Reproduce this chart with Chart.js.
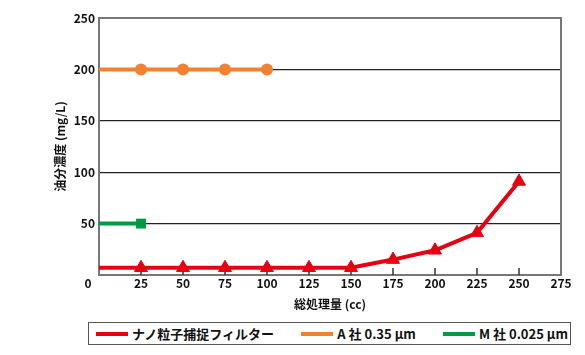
<!DOCTYPE html>
<html>
<head>
<meta charset="utf-8">
<script src="https://cdn.jsdelivr.net/npm/chart.js@4.4.1/dist/chart.umd.min.js"></script>
<style>
  body { margin: 0; background: #fff; }
  #wrap { position: relative; width: 585px; height: 355px; }
  #chart-box { position: absolute; left: 0; top: 0; width: 585px; height: 318px; }
  #legend {
    position: absolute; left: 88px; top: 322px; width: 479px; height: 21px;
    border: 1.5px solid #555; box-sizing: content-box;
    display: flex; align-items: center; justify-content: space-between;
    padding: 0 2px 0 0; font: bold 13px "Noto Sans CJK JP", sans-serif; color: #111;
  }
  #legend .item { display: flex; align-items: center; }
  #legend .item:first-child { margin-left: 7px; }
  #legend .swatch { width: 32px; height: 4px; margin-right: 4px; }
</style>
</head>
<body>
<div id="wrap">
  <div id="chart-box"><canvas id="oil-chart"></canvas></div>
  <div id="legend"></div>
</div>
<script>
const volumes = [0, 25, 50, 75, 100, 125, 150, 175, 200, 225, 250];
const nanoValues = [7, 7, 7, 7, 7, 7, 7, 15, 24, 41, 91];
const aValues = [200, 200, 200, 200, 200];
const mValues = [50, 50];
const seriesLabels = ['ナノ粒子捕捉フィルター', 'A 社 0.35 μm', 'M 社 0.025 μm'];
const seriesColors = ['#e60012', '#f08232', '#009a44'];

const toPoints = vals => vals.map((v, i) => ({ x: volumes[i], y: v }));
const hideFirst = r => ctx => (ctx.dataIndex === 0 ? 0 : r);
const FONT = '"Noto Sans CJK JP", sans-serif';

// 軸の内側の目盛りと原点の「0」
const extrasPlugin = {
    id: 'extras',
    beforeDatasetsDraw(chart) {
        const { ctx, chartArea, scales: { x } } = chart;
        ctx.save();
        ctx.strokeStyle = '#333';
        ctx.lineWidth = 1.5;
        x.ticks.forEach(t => {
            if (t.value === 0 || t.value === x.max) return;
            const px = Math.round(x.getPixelForValue(t.value));
            ctx.beginPath();
            ctx.moveTo(px, chartArea.bottom);
            ctx.lineTo(px, chartArea.bottom - 7);
            ctx.stroke();
        });
        ctx.restore();
    },
    afterDraw(chart) {
        const { ctx, chartArea, scales: { x } } = chart;
        ctx.save();
        ctx.font = `bold 12px ${FONT}`;
        ctx.fillStyle = '#111';
        ctx.textAlign = 'center';
        ctx.textBaseline = 'middle';
        ctx.fillText('0', x.getPixelForValue(0) - 11, chartArea.bottom + 8);
        ctx.restore();
    }
};

const datasets = [
    {
        label: seriesLabels[0], data: toPoints(nanoValues),
        borderColor: seriesColors[0], backgroundColor: seriesColors[0],
        borderWidth: 4, pointStyle: 'triangle', pointRadius: hideFirst(7.5), pointBorderWidth: 1
    },
    {
        label: seriesLabels[1], data: toPoints(aValues),
        borderColor: seriesColors[1], backgroundColor: seriesColors[1],
        borderWidth: 4, pointStyle: 'circle', pointRadius: hideFirst(6), pointBorderWidth: 0
    },
    {
        label: seriesLabels[2], data: toPoints(mValues),
        borderColor: seriesColors[2], backgroundColor: seriesColors[2],
        borderWidth: 4, pointStyle: 'rect', pointRadius: hideFirst(7), pointBorderWidth: 0
    }
];

new Chart(document.getElementById('oil-chart'), {
    type: 'line',
    data: { datasets },
    plugins: [extrasPlugin],
    options: {
        responsive: true,
        maintainAspectRatio: false,
        animation: false,
        layout: { padding: { left: 52, right: 24, top: 18, bottom: 3 } },
        plugins: { legend: { display: false }, tooltip: { enabled: false } },
        scales: {
            x: {
                type: 'linear', min: 0, max: 275,
                afterFit: s => { s.height = 40; },
                ticks: {
                    stepSize: 25, padding: 1, color: '#111',
                    font: { family: FONT, size: 12, weight: 'bold' },
                    callback: v => (v === 0 ? '' : v)
                },
                grid: { drawOnChartArea: false, drawTicks: false },
                border: { color: '#777', width: 2 },
                title: {
                    display: true, text: '総処理量 (cc)', color: '#111',
                    font: { family: FONT, size: 12, weight: 'bold' }, padding: { top: 0, bottom: 3 }
                }
            },
            y: {
                min: 0, max: 250,
                afterFit: s => { s.width = 47; },
                ticks: {
                    stepSize: 50, padding: 4, color: '#111',
                    font: { family: FONT, size: 12, weight: 'bold' },
                    callback: v => (v === 0 ? '' : v)
                },
                grid: {
                    drawTicks: false,
                    color: c => (c.tick.value === 250 ? '#777' : c.tick.value === 0 ? 'rgba(0,0,0,0)' : '#222'),
                    lineWidth: c => (c.tick.value === 250 ? 2 : 1.2)
                },
                border: { color: '#777', width: 2 },
                title: {
                    display: true, text: '油分濃度 (mg/L)', color: '#111',
                    font: { family: FONT, size: 12, weight: 'bold' }, padding: { top: 1, bottom: 0 }
                }
            },
            y2: {
                position: 'right', min: 0, max: 250,
                afterFit: s => { s.width = 0; },
                ticks: { display: false },
                grid: { drawOnChartArea: false, drawTicks: false },
                border: { color: '#777', width: 2 }
            }
        }
    }
});

const legendEl = document.getElementById('legend');
datasets.forEach(ds => {
    legendEl.innerHTML += `<div class="item"><span class="swatch" style="background:${ds.borderColor}"></span><span>${ds.label}</span></div>`;
});
</script>
</body>
</html>
